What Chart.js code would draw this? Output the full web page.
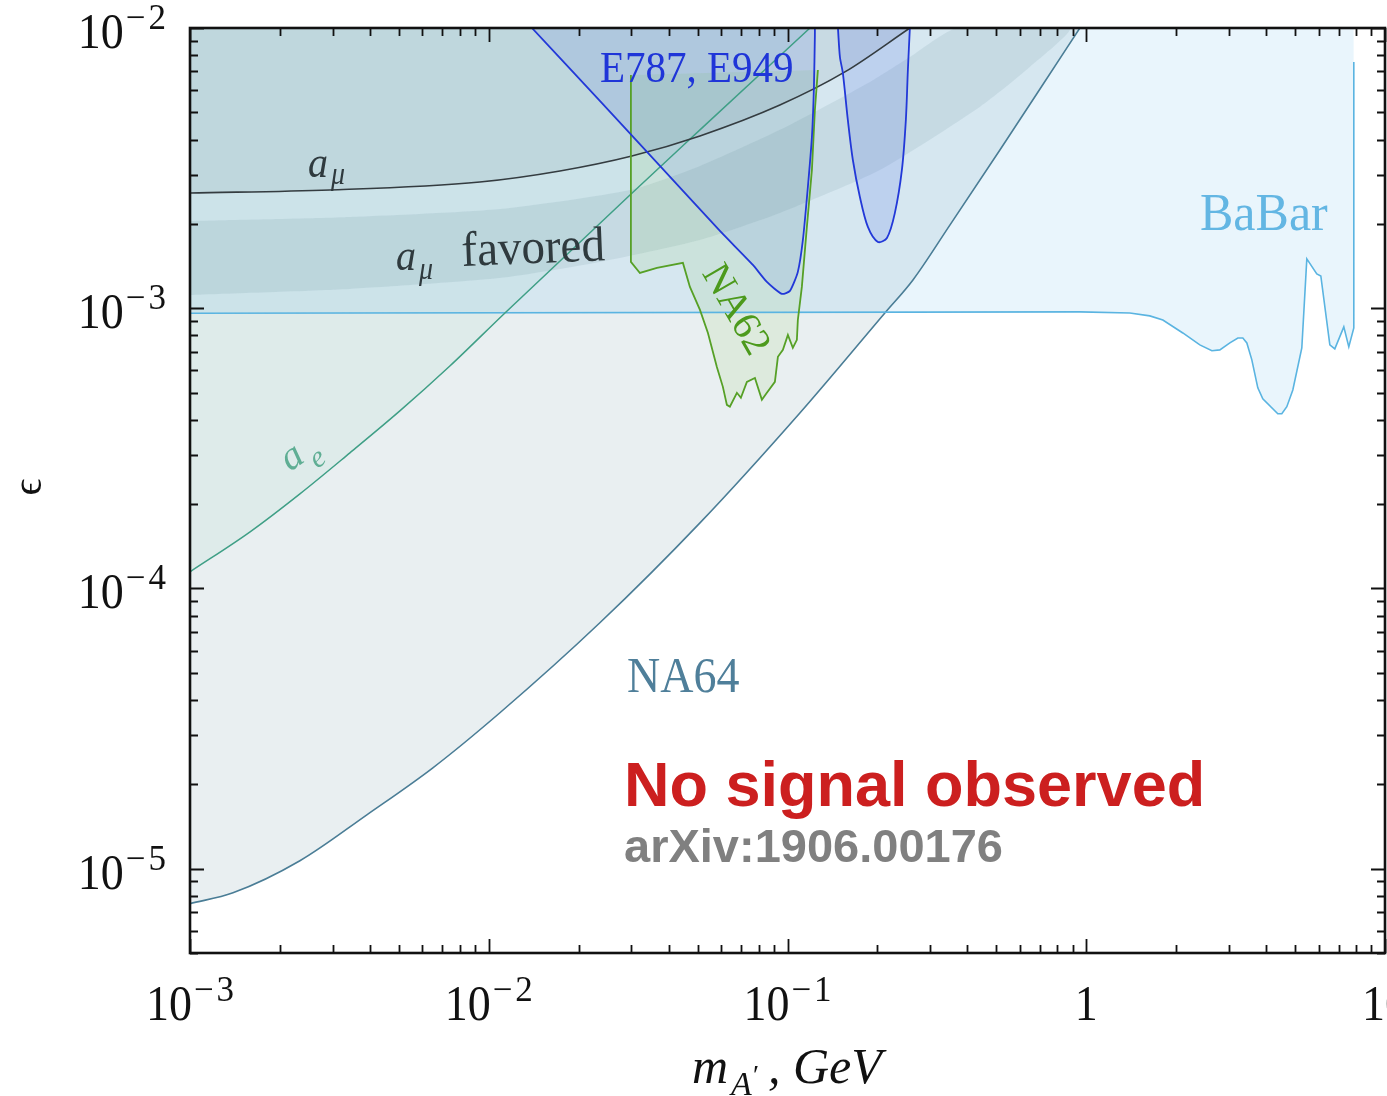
<!DOCTYPE html>
<html>
<head>
<meta charset="utf-8">
<script src="https://cdn.jsdelivr.net/npm/chart.js@4.4.0/dist/chart.umd.min.js"></script>
<style>
  html, body { margin: 0; padding: 0; background: #fff; overflow: hidden; }
  canvas { display: block; }
</style>
</head>
<body>
<canvas id="limits" width="1387" height="1096"></canvas>
<script>
// NA64 limit, excluded above the curve
const na64Mass = [0.001, 0.001393, 0.002333, 0.003908, 0.006501, 0.0109, 0.02355, 0.05093, 0.110, 0.2118, 0.263, 0.3495, 0.514, 0.700, 0.952];
const na64Eps  = [7.5e-6, 8.2e-6, 1.067e-5, 1.556e-5, 2.29e-5, 3.6e-5, 7.54e-5, 1.714e-4, 4.23e-4, 9.62e-4, 1.262e-3, 1.98e-3, 3.67e-3, 6.06e-3, 1.0e-2];

// BaBar limit
const babarMass = [0.001, 0.952, 1.399, 1.632, 1.805, 2.105, 2.40, 2.633, 2.80, 3.025, 3.217, 3.343, 3.448, 3.583, 3.752, 3.899, 4.377, 4.514, 4.692, 4.914, 5.267, 5.474, 5.911, 6.098, 6.537, 6.792, 7.28, 7.565, 7.863, 7.863];
const babarEps  = [9.6e-4, 9.7e-4, 9.62e-4, 9.39e-4, 9.08e-4, 8.16e-4, 7.40e-4, 7.05e-4, 7.10e-4, 7.52e-4, 7.83e-4, 7.83e-4, 7.52e-4, 6.54e-4, 5.20e-4, 4.75e-4, 4.20e-4, 4.20e-4, 4.45e-4, 5.11e-4, 7.22e-4, 1.50e-3, 1.326e-3, 1.304e-3, 7.40e-4, 7.16e-4, 8.58e-4, 7.28e-4, 8.51e-4, 7.56e-3];

// a_e and a_mu bounds
const aeMass  = [0.001, 0.001589, 0.002333, 0.00343, 0.00504, 0.00741, 0.01133, 0.0297, 0.05093, 0.1189];
const aeEps   = [1.146e-4, 1.592e-4, 2.175e-4, 3.047e-4, 4.30e-4, 6.22e-4, 9.62e-4, 2.536e-3, 4.33e-3, 1.0e-2];
const amuMass = [0.001, 0.00294, 0.00934, 0.01731, 0.03014, 0.05093, 0.0943, 0.1556, 0.2568];
const amuEps  = [2.578e-3, 2.642e-3, 2.822e-3, 3.09e-3, 3.494e-3, 4.12e-3, 5.31e-3, 6.97e-3, 1.0e-2];

// a_mu favored band (upper and lower edge)
const bandUpMass  = [0.001, 0.00343, 0.0109, 0.0297, 0.05093, 0.0943, 0.1888, 0.2568, 0.3688];
const bandUpEps   = [2.048e-3, 2.117e-3, 2.26e-3, 2.642e-3, 3.219e-3, 4.33e-3, 6.42e-3, 7.88e-3, 1.0e-2];
const bandLowMass = [0.001, 0.00343, 0.0109, 0.02355, 0.05093, 0.0943, 0.2038, 0.4405, 0.6475, 0.881];
const bandLowEps  = [1.115e-3, 1.172e-3, 1.282e-3, 1.463e-3, 1.752e-3, 2.188e-3, 3.114e-3, 5.23e-3, 7.26e-3, 1.0e-2];

// E787, E949 (two closed regions)
const e787aMass = [0.01395, 0.02355, 0.03741, 0.0594, 0.07659, 0.0853, 0.0958, 0.1019, 0.1083, 0.1126, 0.117, 0.1207, 0.1226, 0.1235, 0.1235];
const e787aEps  = [1.0e-2, 5.49e-3, 3.22e-3, 1.887e-3, 1.427e-3, 1.241e-3, 1.125e-3, 1.153e-3, 1.348e-3, 1.752e-3, 2.708e-3, 4.08e-3, 6.16e-3, 9.44e-3, 1.0e-2];
const e787bMass = [0.1475, 0.1498, 0.1532, 0.1592, 0.1655, 0.1747, 0.1858, 0.2007, 0.2152, 0.2288, 0.2415, 0.249, 0.2529, 0.2568];
const e787bEps  = [1.0e-2, 7.88e-3, 6.91e-3, 4.70e-3, 3.38e-3, 2.495e-3, 1.95e-3, 1.724e-3, 1.781e-3, 2.188e-3, 3.114e-3, 4.70e-3, 7.08e-3, 1.0e-2];

// NA62 region outline
const na62Mass = [0.02991, 0.02991, 0.03206, 0.03655, 0.04466, 0.04714, 0.05093, 0.05416, 0.05802, 0.06077, 0.06268, 0.06414, 0.06771, 0.06982, 0.07312, 0.07779, 0.08209, 0.0853, 0.09074, 0.09287, 0.09652, 0.1003, 0.1042, 0.1075, 0.1083, 0.1117, 0.1161, 0.1207, 0.1235, 0.1264];
const na62Eps  = [6.8e-3, 1.463e-3, 1.336e-3, 1.392e-3, 1.451e-3, 1.191e-3, 9.86e-4, 8.16e-4, 6.17e-4, 5.24e-4, 4.52e-4, 4.45e-4, 4.99e-4, 4.79e-4, 5.46e-4, 5.64e-4, 4.71e-4, 4.99e-4, 5.46e-4, 6.71e-4, 7.10e-4, 8.03e-4, 7.22e-4, 7.71e-4, 9.08e-4, 1.191e-3, 1.95e-3, 3.114e-3, 5.10e-3, 7.08e-3];

// axis ticks and labels
const xTickValues = [1e-3, 1e-2, 1e-1, 1, 10];
const xTickBase   = ['10', '10', '10', '1', '10'];
const xTickExp    = ['3', '2', '1', '', ''];
const yTickValues = [1e-2, 1e-3, 1e-4, 1e-5];
const yTickBase   = ['10', '10', '10', '10'];
const yTickExp    = ['2', '3', '4', '5'];

const toPts = (xs, ys) => xs.map((x, i) => ({ x: x, y: ys[i] }));

const SERIF = "'Liberation Serif', 'DejaVu Serif', serif";
const SANS = "'Liberation Sans', Arial, sans-serif";

function txt(ctx, s, x, y, font, color, opts) {
    opts = opts || {};
    ctx.save();
    ctx.translate(x, y);
    if (opts.rot) ctx.rotate(opts.rot);
    if (opts.sy) ctx.scale(1, opts.sy);
    ctx.font = font;
    ctx.fillStyle = color;
    ctx.textAlign = opts.align || 'left';
    ctx.textBaseline = opts.baseline || 'alphabetic';
    ctx.fillText(s, 0, 0);
    ctx.restore();
}

// "10" followed by a raised "−n"; returns nothing, starts at x
const baseFont = '46px ' + SERIF;
const expFont = '35px ' + SERIF;
function powerWidth(ctx, base, exp) {
    ctx.font = baseFont;
    let w = ctx.measureText(base).width;
    if (exp) {
        ctx.font = expFont;
        w += 2 + ctx.measureText('\u2212').width + 3 + ctx.measureText(exp).width;
    }
    return w;
}
function drawPower(ctx, base, exp, x, baseline) {
    txt(ctx, base, x, baseline, baseFont, '#111', { sy: 1.12 });
    if (!exp) return;
    ctx.font = baseFont;
    let cx = x + ctx.measureText(base).width + 2;
    txt(ctx, '\u2212', cx, baseline - 19, expFont, '#111');
    ctx.font = expFont;
    cx += ctx.measureText('\u2212').width + 3;
    txt(ctx, exp, cx, baseline - 19, expFont, '#111', { sy: 1.05 });
}

const decorations = {
    id: 'decorations',
    afterDraw(chart) {
        const { ctx, chartArea: a, scales: { x, y } } = chart;
        ctx.save();
        ctx.strokeStyle = '#111';
        ctx.lineWidth = 1.8;

        // inward ticks on all four sides
        ctx.beginPath();
        for (let k = -3; k <= 1; k++) {
            for (let j = 1; j <= 9; j++) {
                const v = j * Math.pow(10, k);
                if (v > 10.0001) continue;
                const px = Math.round(x.getPixelForValue(v)) + 0.5;
                const len = j === 1 ? 14 : 8;
                ctx.moveTo(px, a.bottom); ctx.lineTo(px, a.bottom - len);
                ctx.moveTo(px, a.top); ctx.lineTo(px, a.top + len);
            }
        }
        for (let k = -6; k <= -2; k++) {
            for (let j = 1; j <= 9; j++) {
                const v = j * Math.pow(10, k);
                if (v < 4.99e-6 || v > 1.0001e-2) continue;
                const py = Math.round(y.getPixelForValue(v)) + 0.5;
                const len = j === 1 ? 14 : 8;
                ctx.moveTo(a.left, py); ctx.lineTo(a.left + len, py);
                ctx.moveTo(a.right, py); ctx.lineTo(a.right - len, py);
            }
        }
        ctx.stroke();

        ctx.lineWidth = 2.6;
        ctx.strokeRect(a.left, a.top, a.right - a.left, a.bottom - a.top);

        // tick labels
        xTickValues.forEach((v, i) => {
            const px = x.getPixelForValue(v);
            const w = powerWidth(ctx, xTickBase[i], xTickExp[i]);
            drawPower(ctx, xTickBase[i], xTickExp[i], px - w / 2, 1020);
        });
        yTickValues.forEach((v, i) => {
            const py = y.getPixelForValue(v);
            const w = powerWidth(ctx, yTickBase[i], yTickExp[i]);
            drawPower(ctx, yTickBase[i], yTickExp[i], 166 - w, py + 20);
        });

        // axis titles
        txt(ctx, 'm', 692, 1083, 'italic 50px ' + SERIF, '#111');
        txt(ctx, 'A', 731, 1095, 'italic 34px ' + SERIF, '#111');
        txt(ctx, '\u2032', 753, 1084, '28px ' + SERIF, '#111');
        txt(ctx, ', GeV', 768, 1083, 'italic 50px ' + SERIF, '#111');
        txt(ctx, '\u03f5', 30, 487, '42px ' + SERIF, '#111', { rot: -Math.PI / 2, align: 'center', baseline: 'middle' });

        // region labels
        txt(ctx, 'a', 308, 177, 'italic 40px ' + SERIF, '#2f3a3e', { sy: 1.1 });
        txt(ctx, '\u03bc', 331, 184, 'italic 28px ' + SERIF, '#2f3a3e', { sy: 1.1 });
        txt(ctx, 'a', 396, 270, 'italic 40px ' + SERIF, '#2f3a3e', { sy: 1.1 });
        txt(ctx, '\u03bc', 419, 279, 'italic 28px ' + SERIF, '#2f3a3e', { sy: 1.1 });
        txt(ctx, 'favored', 462, 266, '47px ' + SERIF, '#2f3a3e', { rot: -0.04, sy: 1.05 });

        txt(ctx, 'E787, E949', 600, 82, '41px ' + SERIF, '#1f35d8', { sy: 1.08 });
        txt(ctx, 'NA62', 735, 310, '40px ' + SERIF, '#4c9a1c', { rot: 1.047, align: 'center', baseline: 'middle' });

        ctx.save();
        ctx.translate(290, 472);
        ctx.rotate(-0.61);
        txt(ctx, 'a', 0, 0, 'italic 40px ' + SERIF, '#5fae94');
        txt(ctx, 'e', 24, 13, 'italic 30px ' + SERIF, '#5fae94');
        ctx.restore();

        txt(ctx, 'BaBar', 1200, 230, '50px ' + SERIF, '#63b6e3', { sy: 1.05 });
        txt(ctx, 'NA64', 627, 692, '46px ' + SERIF, '#4f7f9a', { sy: 1.1 });

        txt(ctx, 'No signal observed', 624, 806, 'bold 63px ' + SANS, '#cc1f1f');
        txt(ctx, 'arXiv:1906.00176', 624, 862, 'bold 47px ' + SANS, '#808080');
        ctx.restore();
    }
};

const line = (data, color, width, fill, bg, extra) => Object.assign({
    data: data,
    borderColor: color,
    borderWidth: width,
    backgroundColor: bg,
    fill: fill,
    pointRadius: 0,
    tension: 0
}, extra || {});

new Chart(document.getElementById('limits'), {
    type: 'line',
    data: {
        datasets: [
            line(toPts(e787bMass, e787bEps), '#2238d8', 1.8, 'shape', 'rgba(50,80,225,0.15)', { tension: 0.3 }),
            line(toPts(e787aMass, e787aEps), '#2238d8', 1.8, 'shape', 'rgba(50,80,225,0.11)', { tension: 0.2 }),
            line(toPts(na62Mass, na62Eps), '#56a026', 1.8, 'shape', 'rgba(110,185,40,0.10)'),
            line(toPts(amuMass, amuEps), '#343c40', 1.6, 'end', 'rgba(95,125,130,0.12)', { cubicInterpolationMode: 'monotone' }),
            line(toPts(aeMass, aeEps), '#3f9f86', 1.5, 'end', 'rgba(60,165,140,0.065)', { cubicInterpolationMode: 'monotone' }),
            line(toPts(babarMass, babarEps), '#5ab4e1', 1.6, 'end', 'rgba(110,185,235,0.15)'),
            line(toPts(na64Mass, na64Eps), '#4a7d96', 1.6, 'end', 'rgba(74,120,140,0.12)', { cubicInterpolationMode: 'monotone' }),
            line(toPts(bandUpMass, bandUpEps).concat(toPts(bandLowMass, bandLowEps).reverse()),
                 'rgba(0,0,0,0)', 0, 'shape', 'rgba(95,125,130,0.13)', { tension: 0.2 })
        ]
    },
    options: {
        responsive: false,
        animation: false,
        devicePixelRatio: 1,
        layout: { padding: { left: 190, top: 28, right: 2, bottom: 143 } },
        scales: {
            x: { type: 'logarithmic', min: 1e-3, max: 10, display: false },
            y: { type: 'logarithmic', min: 5e-6, max: 1e-2, display: false }
        },
        plugins: {
            legend: { display: false },
            tooltip: { enabled: false },
            filler: { propagate: false, drawTime: 'beforeDatasetsDraw' }
        }
    },
    plugins: [decorations]
});
</script>
</body>
</html>
